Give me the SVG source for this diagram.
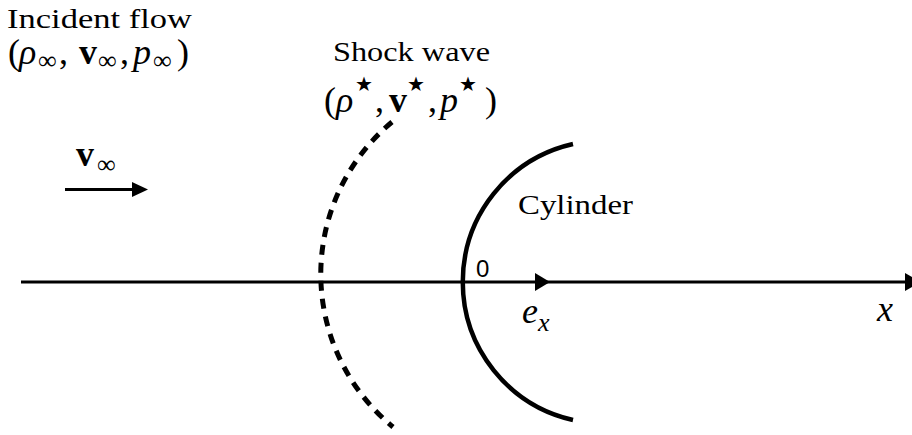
<svg xmlns="http://www.w3.org/2000/svg" width="912" height="435" viewBox="0 0 912 435">
<style>
.t{font-family:"Times New Roman","Liberation Serif",serif;fill:#000}
.m{font-family:"Times New Roman","Liberation Serif",serif;fill:#000;font-size:36px}
.i{font-style:italic}
.b{font-weight:bold}
.s{font-size:26px}
.st{font-family:"DejaVu Sans",sans-serif;font-size:20px}
.ln{stroke:#000;fill:none}
.ah{fill:#000}
</style>
<rect width="912" height="435" fill="#fff"/>
<g id="connectors">
<line class="ln" x1="21" y1="282" x2="912" y2="282" stroke-width="3"/>
<polygon class="ah" points="535,273 550,282 535,291"/>
<polygon class="ah" points="905,273 921,282 905,291"/>
<line class="ln" x1="65" y1="189.5" x2="136" y2="189.5" stroke-width="3"/>
<polygon class="ah" points="132,182 148,189.5 132,197"/>
</g>
<g id="shock-wave">
<path class="ln" d="M392,122 A198,198 0 0 0 393,427" stroke-width="5" stroke-dasharray="10 8"/>
</g>
<g id="cylinder">
<path class="ln" d="M573,144 A141.5,141.5 0 0 0 573,420" stroke-width="4.5"/>
</g>
<g id="incident-flow-label">
<text class="t" x="7" y="28" font-size="28" textLength="185" lengthAdjust="spacingAndGlyphs">Incident flow</text>
<text class="m" y="64"><tspan x="8">(</tspan><tspan class="i" x="19">ρ</tspan><tspan class="s" x="38" y="69">∞</tspan><tspan x="59" y="64">,</tspan><tspan class="b" x="79">v</tspan><tspan class="s" x="98" y="69">∞</tspan><tspan x="120" y="64">,</tspan><tspan class="i" x="133">p</tspan><tspan class="s" x="153" y="69">∞</tspan><tspan x="177" y="64">)</tspan></text>
</g>
<g id="shock-wave-label">
<text class="t" x="333" y="61" font-size="28" textLength="157" lengthAdjust="spacingAndGlyphs">Shock wave</text>
<text class="m" y="112"><tspan x="324">(</tspan><tspan class="i" x="336">ρ</tspan><tspan x="375">,</tspan><tspan class="b" x="389">v</tspan><tspan x="428">,</tspan><tspan class="i" x="440">p</tspan><tspan x="485">)</tspan></text>
<text class="st" y="91"><tspan x="355">★</tspan><tspan x="407">★</tspan><tspan x="459">★</tspan></text>
</g>
<g id="v-inf-label">
<text class="m" y="166"><tspan class="b" x="76">v</tspan><tspan class="s" x="97" y="173">∞</tspan></text>
</g>
<g id="cylinder-label">
<text class="t" x="518" y="214" font-size="28" textLength="115" lengthAdjust="spacingAndGlyphs">Cylinder</text>
</g>
<g id="origin-label">
<text x="476" y="277" font-family="Arial,'Liberation Sans',sans-serif" font-size="24">0</text>
</g>
<g id="ex-label">
<text class="m i" y="323"><tspan x="522">e</tspan><tspan class="s" x="538" y="331">x</tspan></text>
</g>
<g id="x-label">
<text class="m i" x="877" y="321" font-size="36">x</text>
</g>
</svg>
